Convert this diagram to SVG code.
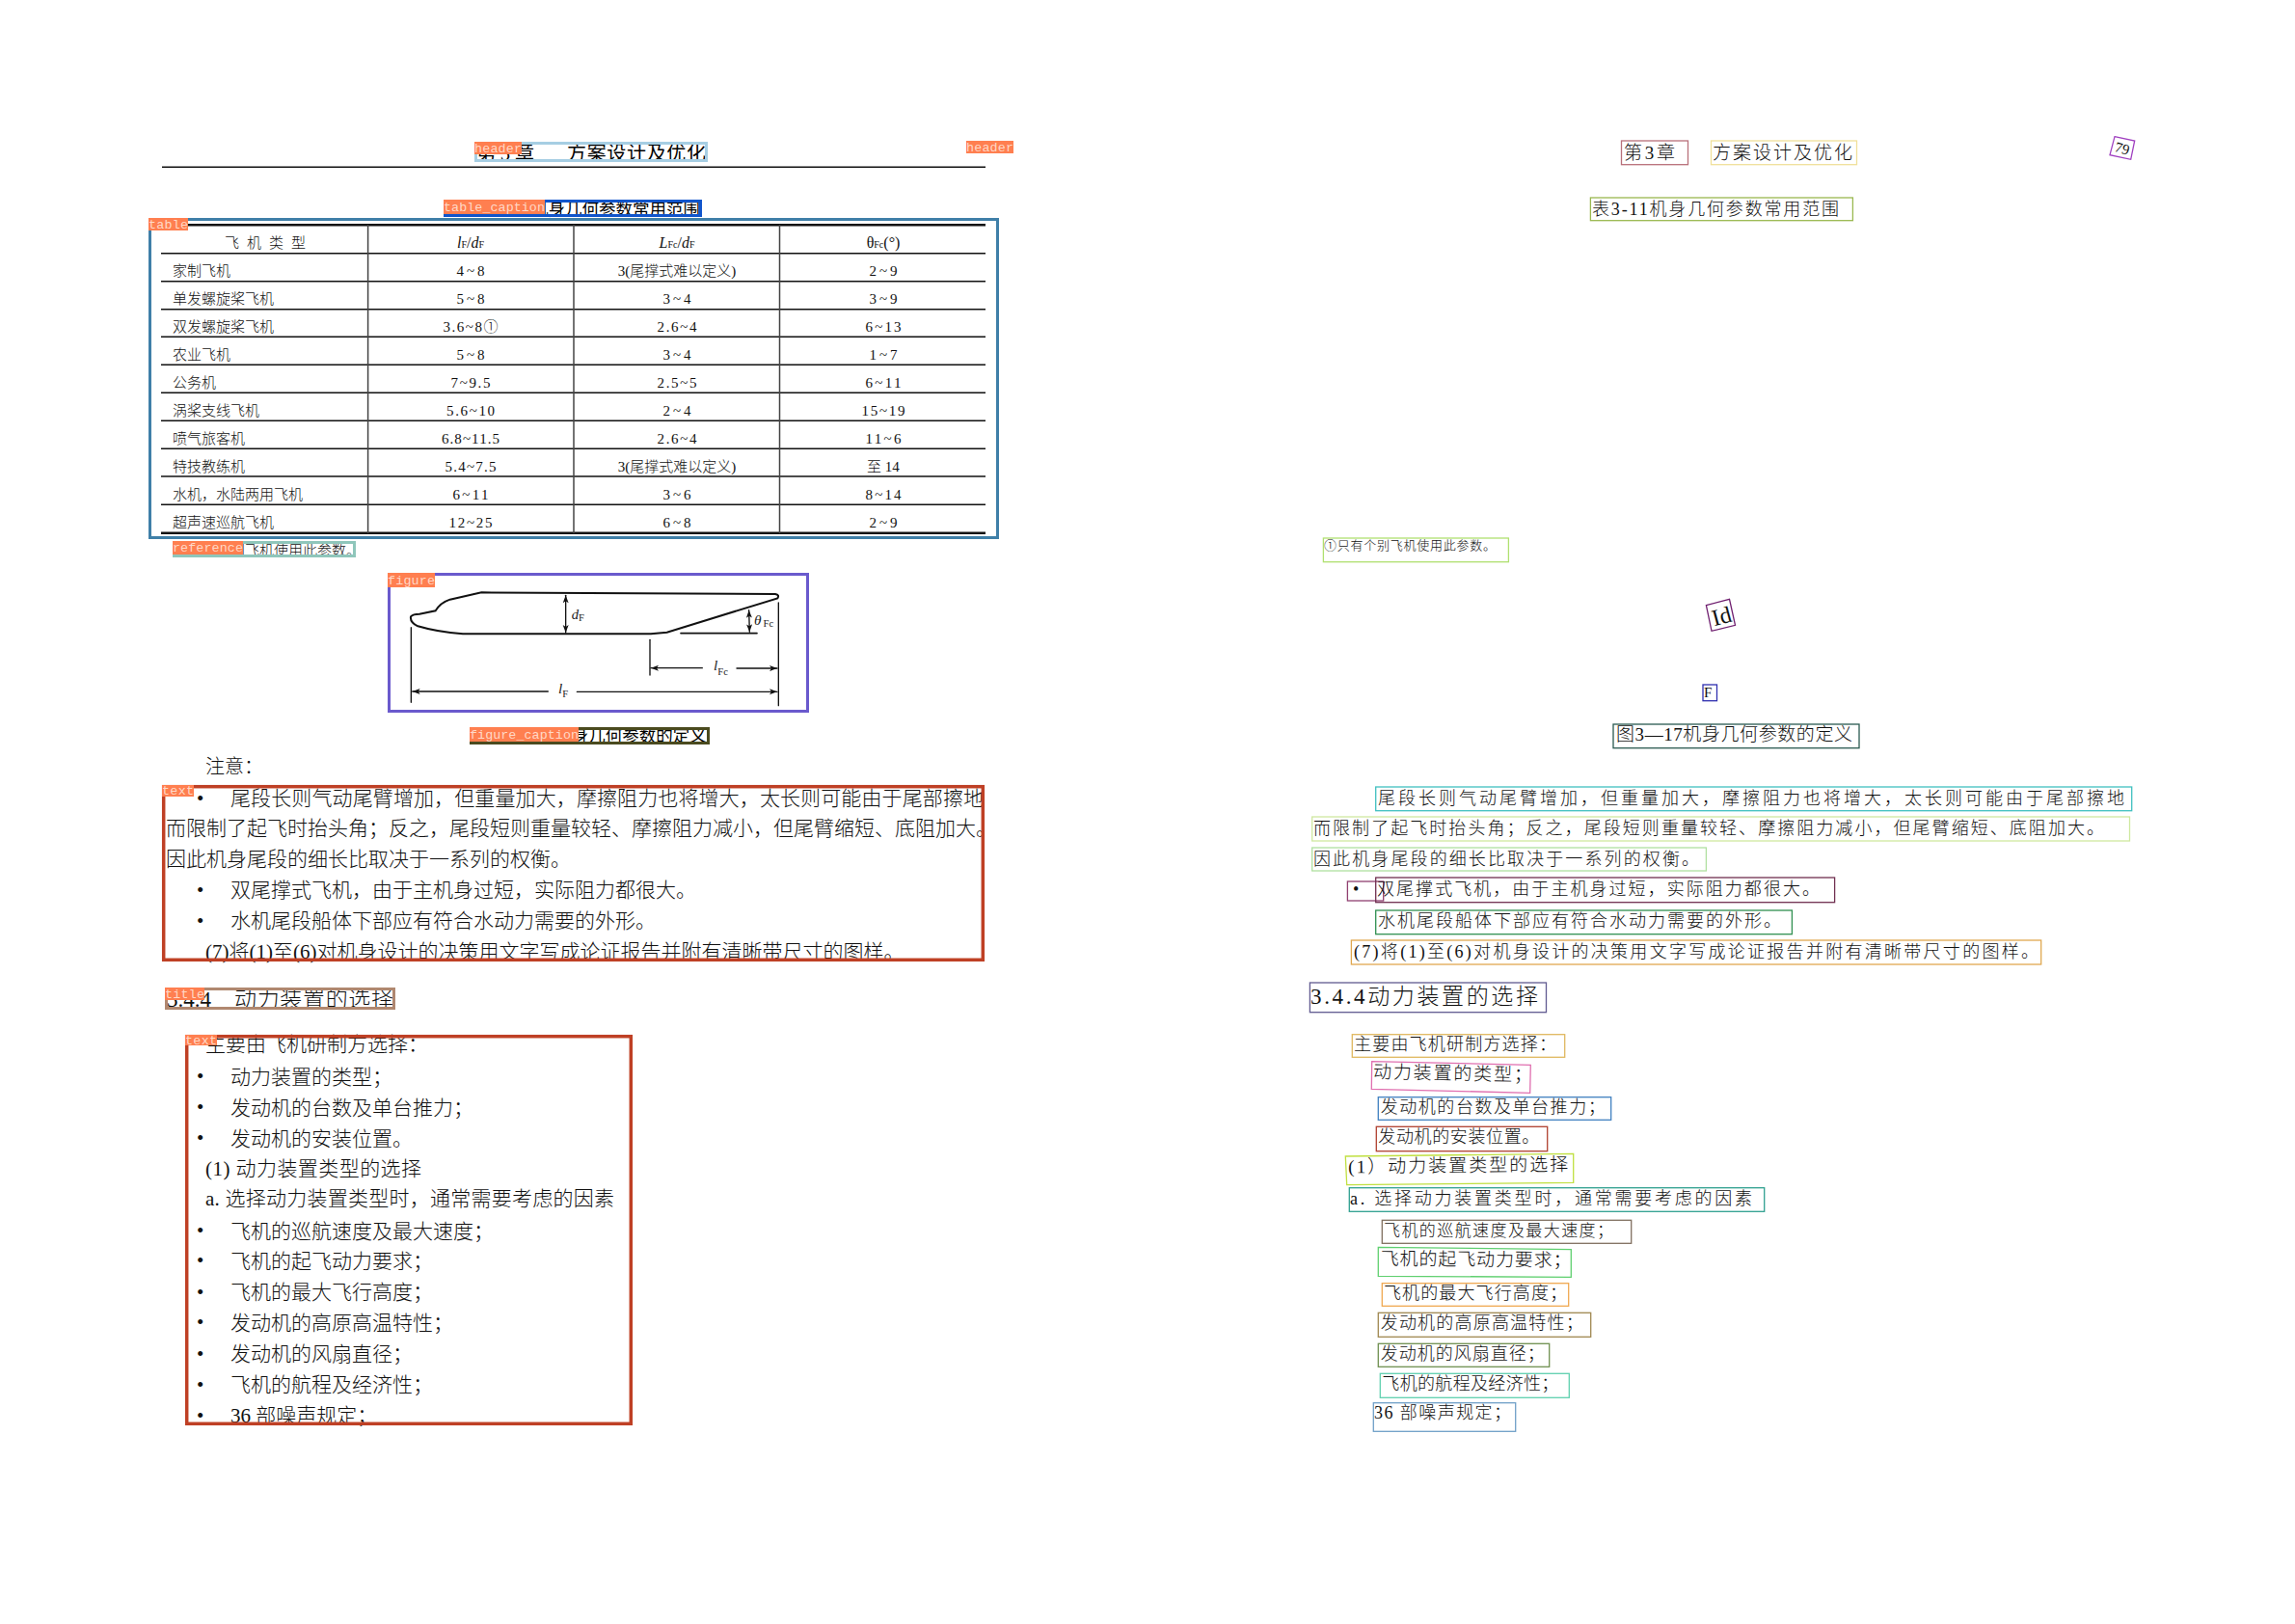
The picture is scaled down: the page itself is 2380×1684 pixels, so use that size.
<svg xmlns="http://www.w3.org/2000/svg" width="2380" height="1684" viewBox="0 0 2380 1684">
<style>
text{font-family:"Liberation Serif","Noto Sans CJK SC",serif;font-weight:300;fill:#111;dominant-baseline:alphabetic}
.t21{font-size:21px}.t15{font-size:15px}.t16{font-size:16px}.t17{font-size:17.5px;font-weight:400;fill:#000}.t20{font-size:20px}.t23{font-size:23px}.m{text-anchor:middle}
.hd{font-weight:400;fill:#000}
.r18{font-size:18px}.r19{font-size:19px}.r13{font-size:13px}.r24{font-size:24px}
.b3{fill:none;stroke-width:3}.b1{fill:none;stroke-width:1.3}
.lab{fill:#ff7f50}.labt{font-family:"Liberation Mono",monospace;fill:#ffe9df;font-size:13.4px;fill-opacity:.85}
.tl{stroke:#111;stroke-width:1.5}.tv{stroke:#444;stroke-width:1.5}
.sub{font-size:10px}.it{font-style:italic}
.fig{fill:none;stroke:#111;stroke-linecap:round}
.ft{font-family:"Liberation Serif",serif;fill:#222}
</style>
<defs>
<marker id="ah" markerUnits="userSpaceOnUse" markerWidth="26" markerHeight="20" refX="24" refY="10" orient="auto-start-reverse"><path d="M0 1L24 10L0 19L6 10Z" fill="#111"/></marker>
</defs>
<rect width="2380" height="1684" fill="#fff"/>

<g id="page-left-header">
<text class="t20 hd" y="165.5"><tspan x="494" textLength="60">第 3 章</tspan><tspan x="588" textLength="144">方案设计及优化</tspan></text>
<rect class="b3" x="493.5" y="148.5" width="239" height="18" stroke="#a6cee3"/>
<rect class="lab" x="492" y="147" width="49" height="13"/><text class="labt" x="492" y="158" textLength="49">header</text>
<line class="tl" x1="168" y1="173.3" x2="1022" y2="173.3"/>
</g>
<g id="page-left-header2">
<rect class="lab" x="1002" y="146" width="49" height="13"/><text class="labt" x="1002" y="157" textLength="49">header</text>
</g>

<g id="table-caption">
<text class="t17" x="502" y="223">表3-11机身几何参数常用范围</text>
<rect class="b3" x="461.5" y="208.5" width="265" height="15" stroke="#1155cc"/>
<rect class="lab" x="460" y="207" width="105" height="15"/><text class="labt" x="460" y="219" textLength="105">table_caption</text>
</g>

<g id="table">
<line x1="167" y1="233.3" x2="1022" y2="233.3" stroke="#111" stroke-width="2.6"/>
<g class="tl">
<line x1="167" y1="262.7" x2="1022" y2="262.7"/><line x1="167" y1="291.7" x2="1022" y2="291.7"/><line x1="167" y1="320.7" x2="1022" y2="320.7"/><line x1="167" y1="349.3" x2="1022" y2="349.3"/><line x1="167" y1="378.3" x2="1022" y2="378.3"/><line x1="167" y1="407.3" x2="1022" y2="407.3"/><line x1="167" y1="436.3" x2="1022" y2="436.3"/><line x1="167" y1="465.3" x2="1022" y2="465.3"/><line x1="167" y1="494" x2="1022" y2="494"/><line x1="167" y1="523.3" x2="1022" y2="523.3"/>
</g>
<line x1="167" y1="552.7" x2="1022" y2="552.7" stroke="#111" stroke-width="2.6"/>
<g class="tv"><line x1="381.6" y1="233" x2="381.6" y2="553"/><line x1="595" y1="233" x2="595" y2="553"/><line x1="808.5" y1="233" x2="808.5" y2="553"/></g>
<text class="t15" x="233" y="257" textLength="84">飞 机 类 型</text>
<text class="t16 m" x="488" y="257"><tspan class="it">l</tspan><tspan class="sub">F</tspan>/<tspan class="it">d</tspan><tspan class="sub">F</tspan></text>
<text class="t16 m" x="702" y="257"><tspan class="it">L</tspan><tspan class="sub">Fc</tspan>/<tspan class="it">d</tspan><tspan class="sub">F</tspan></text>
<text class="t16 m" x="916" y="257">θ<tspan class="sub">Fc</tspan>(°)</text>
<g class="t15">
<text x="179" y="286">家制飞机</text><text class="m" x="488" y="286" textLength="29">4~8</text><text class="m" x="702" y="286">3(尾撑式难以定义)</text><text class="m" x="916" y="286" textLength="29">2~9</text>
<text x="179" y="315">单发螺旋桨飞机</text><text class="m" x="488" y="315" textLength="29">5~8</text><text class="m" x="702" y="315" textLength="29">3~4</text><text class="m" x="916" y="315" textLength="29">3~9</text>
<text x="179" y="343.5">双发螺旋桨飞机</text><text class="m" x="488" y="343.5" textLength="57">3.6~8①</text><text class="m" x="702" y="343.5" textLength="41">2.6~4</text><text class="m" x="916" y="343.5" textLength="37">6~13</text>
<text x="179" y="372.5">农业飞机</text><text class="m" x="488" y="372.5" textLength="29">5~8</text><text class="m" x="702" y="372.5" textLength="29">3~4</text><text class="m" x="916" y="372.5" textLength="29">1~7</text>
<text x="179" y="401.5">公务机</text><text class="m" x="488" y="401.5" textLength="41">7~9.5</text><text class="m" x="702" y="401.5" textLength="41">2.5~5</text><text class="m" x="916" y="401.5" textLength="37">6~11</text>
<text x="179" y="430.5">涡桨支线飞机</text><text class="m" x="488" y="430.5" textLength="50">5.6~10</text><text class="m" x="702" y="430.5" textLength="29">2~4</text><text class="m" x="916" y="430.5" textLength="45">15~19</text>
<text x="179" y="459.5">喷气旅客机</text><text class="m" x="488" y="459.5" textLength="60">6.8~11.5</text><text class="m" x="702" y="459.5" textLength="41">2.6~4</text><text class="m" x="916" y="459.5" textLength="37">11~6</text>
<text x="179" y="488.5">特技教练机</text><text class="m" x="488" y="488.5" textLength="53">5.4~7.5</text><text class="m" x="702" y="488.5">3(尾撑式难以定义)</text><text class="m" x="916" y="488.5">至 14</text>
<text x="179" y="517.5">水机，水陆两用飞机</text><text class="m" x="488" y="517.5" textLength="37">6~11</text><text class="m" x="702" y="517.5" textLength="29">3~6</text><text class="m" x="916" y="517.5" textLength="37">8~14</text>
<text x="179" y="546.5">超声速巡航飞机</text><text class="m" x="488" y="546.5" textLength="45">12~25</text><text class="m" x="702" y="546.5" textLength="29">6~8</text><text class="m" x="916" y="546.5" textLength="29">2~9</text>
</g>
<rect class="b3" x="155.5" y="227.5" width="879" height="330" stroke="#3f7fa8"/>
<rect class="lab" x="154" y="226" width="41" height="13"/><text class="labt" x="154" y="237" textLength="41">table</text>
</g>

<g id="reference">
<text class="t15" x="179" y="576">①只有个别飞机使用此参数。</text>
<rect class="b3" x="180.5" y="562.5" width="187" height="14" stroke="#8fc6bb"/>
<rect class="lab" x="179" y="561" width="73" height="14"/><text class="labt" x="179" y="572" textLength="73">reference</text>
</g>

<g id="figure">
<g transform="translate(380 580) scale(.33333)">
<path class="fig" stroke-width="6" d="M358 103L1272 108Q1286 111 1279 121L935 227L885 232L300 232Q220 226 160 208Q135 196 138 178Q145 170 165 170L215 160Q230 135 260 125Z"/>
<g class="fig" stroke-width="4">
<line x1="978" y1="230" x2="1215" y2="230" stroke-width="5"/>
<line x1="620" y1="112" x2="620" y2="228" marker-start="url(#ah)" marker-end="url(#ah)"/>
<line x1="1190" y1="158" x2="1192" y2="226" marker-start="url(#ah)" marker-end="url(#ah)"/>
<line x1="139" y1="212" x2="139" y2="445"/><line x1="882" y1="250" x2="882" y2="360"/><line x1="1282" y1="135" x2="1282" y2="455"/>
<line x1="1045" y1="338" x2="885" y2="338" marker-end="url(#ah)"/><line x1="1152" y1="339" x2="1278" y2="339" marker-end="url(#ah)"/>
<line x1="565" y1="411" x2="143" y2="411" marker-end="url(#ah)"/><line x1="655" y1="412" x2="1278" y2="412" marker-end="url(#ah)"/>
</g>
<text class="ft" font-size="44" x="638" y="185"><tspan class="it">d</tspan><tspan font-size="32" dy="8">F</tspan></text>
<text class="ft" font-size="46" x="1206" y="203"><tspan class="it">θ</tspan><tspan font-size="32" dx="6" dy="8">Fc</tspan></text>
<text class="ft" font-size="46" x="1080" y="345"><tspan class="it">l</tspan><tspan font-size="32" dy="14">Fc</tspan></text>
<text class="ft" font-size="46" x="597" y="418"><tspan class="it">l</tspan><tspan font-size="32" dy="10">F</tspan></text>
</g>
<rect class="b3" x="403.5" y="595.5" width="434" height="142" stroke="#6a5acd"/>
<rect class="lab" x="402" y="594" width="49" height="15"/><text class="labt" x="402" y="606" textLength="49">figure</text>
</g>

<g id="figure-caption">
<text class="t17" x="514" y="769">图3—17机身几何参数的定义</text>
<rect class="b3" x="488.5" y="755.5" width="246" height="15" stroke="#4b4b1f"/>
<rect class="lab" x="487" y="754" width="113" height="15"/><text class="labt" x="487" y="766" textLength="113">figure_caption</text>
</g>

<text id="note" class="t20" x="213" y="802">注意：</text>

<g id="text-1">
<g class="t21">
<text x="204" y="834.5">•</text><text x="239" y="835" textLength="781">尾段长则气动尾臂增加，但重量加大，摩擦阻力也将增大，太长则可能由于尾部擦地</text>
<text x="172" y="866">而限制了起飞时抬头角；反之，尾段短则重量较轻、摩擦阻力减小，但尾臂缩短、底阻加大。</text>
<text x="172" y="897.5">因此机身尾段的细长比取决于一系列的权衡。</text>
<text x="204" y="929.5">•</text><text x="239" y="930">双尾撑式飞机，由于主机身过短，实际阻力都很大。</text>
<text x="204" y="961.5">•</text><text x="239" y="962">水机尾段船体下部应有符合水动力需要的外形。</text>
<text x="213" y="993.5">(7)将(1)至(6)对机身设计的决策用文字写成论证报告并附有清晰带尺寸的图样。</text>
</g>
<rect class="b3" style="stroke-width:3.5" x="169.7" y="815.7" width="849.6" height="179.6" stroke="#bf4025"/>
<rect class="lab" x="168" y="814" width="33" height="12"/><text class="labt" x="168" y="824" textLength="33">text</text>
</g>

<g id="title">
<text class="t23" x="173" y="1044"><tspan>3.4.4</tspan><tspan x="243" textLength="165">动力装置的选择</tspan></text>
<rect class="b3" x="172.5" y="1025.5" width="236" height="20" stroke="#b08870"/>
<rect class="lab" x="171" y="1024" width="41" height="13"/><text class="labt" x="171" y="1035" textLength="41">title</text>
</g>

<g id="text-2">
<g class="t21">
<text x="213" y="1090">主要由飞机研制方选择：</text>
<text x="204" y="1123">•</text><text x="239" y="1123.5">动力装置的类型；</text>
<text x="204" y="1155">•</text><text x="239" y="1155.5">发动机的台数及单台推力；</text>
<text x="204" y="1187">•</text><text x="239" y="1187.5">发动机的安装位置。</text>
<text x="213" y="1218.5" textLength="224">(1) 动力装置类型的选择</text>
<text x="213" y="1249.5" textLength="424">a. 选择动力装置类型时，通常需要考虑的因素</text>
<text x="204" y="1283">•</text><text x="239" y="1283.5">飞机的巡航速度及最大速度；</text>
<text x="204" y="1314">•</text><text x="239" y="1314.5">飞机的起飞动力要求；</text>
<text x="204" y="1347">•</text><text x="239" y="1347">飞机的最大飞行高度；</text>
<text x="204" y="1378">•</text><text x="239" y="1378.5">发动机的高原高温特性；</text>
<text x="204" y="1410.5">•</text><text x="239" y="1410.5">发动机的风扇直径；</text>
<text x="204" y="1442.5">•</text><text x="239" y="1442.5">飞机的航程及经济性；</text>
<text x="204" y="1474.5">•</text><text x="239" y="1475">36 部噪声规定；</text>
</g>
<rect class="b3" style="stroke-width:3.5" x="193.7" y="1074.7" width="460.6" height="401.6" stroke="#bf4025"/>
<rect class="lab" x="192" y="1073" width="33" height="11"/><text class="labt" x="192" y="1083" textLength="33">text</text>
</g>

<g id="r-header-a"><text class="r19" x="1684" y="165" textLength="53">第3章</text><rect class="b1" x="1681.5" y="146" width="69" height="24.7" stroke="#b8707a"/></g>
<g id="r-header-b"><text class="r19" x="1776" y="165" textLength="145">方案设计及优化</text><rect class="b1" x="1774.5" y="146" width="151" height="24.7" stroke="#f0e09a"/></g>
<g id="r-page-no"><text class="t15" x="2201" y="159" text-anchor="middle" transform="rotate(16 2201 153.5)">79</text><polygon class="b1" points="2193,141.7 2213.7,146 2209.7,165.3 2188,160.7" stroke="#a040c0"/></g>
<g id="r-table-caption"><text class="r18" x="1651" y="222.5" textLength="256">表3-11机身几何参数常用范围</text><rect class="b1" x="1649.4" y="205" width="272" height="23.7" stroke="#9ab850"/></g>
<g id="r-ref"><text class="r13" x="1373" y="569.5" textLength="178">①只有个别飞机使用此参数。</text><rect class="b1" x="1372.4" y="558" width="192" height="24.7" stroke="#b0e070"/></g>
<g id="r-id"><text class="r24" x="1785" y="647" text-anchor="middle" transform="rotate(-15 1785 638)">Id</text><polygon class="b1" points="1769.4,627.7 1793.5,621.3 1799.5,648.3 1775,654.3" stroke="#702070"/></g>
<g id="r-f"><text class="t15" x="1767" y="723">F</text><rect class="b1" x="1766" y="710" width="14.5" height="16.7" stroke="#3030b0"/></g>
<g id="r-fig-caption"><text class="r19" x="1676" y="768" textLength="245">图3—17机身几何参数的定义</text><rect class="b1" x="1673" y="751" width="255" height="24.7" stroke="#2a5a50"/></g>

<g id="r-1"><text class="r18" x="1429" y="834" textLength="774">尾段长则气动尾臂增加，但重量加大，摩擦阻力也将增大，太长则可能由于尾部擦地</text><rect class="b1" x="1426.7" y="816" width="784" height="24.7" stroke="#40c0c0"/></g>
<g id="r-2"><text class="r18" x="1362" y="865" textLength="820">而限制了起飞时抬头角；反之，尾段短则重量较轻、摩擦阻力减小，但尾臂缩短、底阻加大。</text><rect class="b1" x="1360.7" y="847" width="847.8" height="25" stroke="#d0e8a0"/></g>
<g id="r-3"><text class="r18" x="1362" y="897" textLength="400">因此机身尾段的细长比取决于一系列的权衡。</text><rect class="b1" x="1360.7" y="879" width="408.7" height="24" stroke="#b0e0a0"/></g>
<g id="r-bullet"><text class="r18" x="1403" y="927.5">•</text><rect class="b1" x="1397.4" y="914" width="37.3" height="20" stroke="#904070"/></g>
<g id="r-4"><text class="r18" x="1428" y="928" textLength="459">双尾撑式飞机，由于主机身过短，实际阻力都很大。</text><rect class="b1" x="1426.7" y="910" width="475.9" height="25.7" stroke="#703050"/></g>
<g id="r-5"><text class="r18" x="1429" y="961" textLength="418">水机尾段船体下部应有符合水动力需要的外形。</text><rect class="b1" x="1426.7" y="944" width="431.7" height="24.7" stroke="#309050"/></g>
<g id="r-6"><text class="r18" x="1404" y="992.5" textLength="710">(7)将(1)至(6)对机身设计的决策用文字写成论证报告并附有清晰带尺寸的图样。</text><rect class="b1" x="1401.4" y="975" width="715.3" height="25" stroke="#e0a850"/></g>
<g id="r-title"><text class="t23" x="1359" y="1041" textLength="236">3.4.4动力装置的选择</text><rect class="b1" x="1358.4" y="1019" width="245.1" height="30.7" stroke="#605a90"/></g>
<g id="r-a"><text class="r18" x="1404" y="1088.5" textLength="210">主要由飞机研制方选择：</text><rect class="b1" x="1402.3" y="1072.7" width="220.4" height="23.6" stroke="#e0b860"/></g>
<g id="r-b"><text class="r18" style="font-size:19px" x="1424" y="1119.5" textLength="165" transform="rotate(1.2 1505 1113)">动力装置的类型；</text><polygon class="b1" points="1422.7,1100.7 1587.3,1104.3 1586.7,1133.3 1422.3,1129.3" stroke="#e070b0"/></g>
<g id="r-c"><text class="r18" x="1431.7" y="1154" textLength="233">发动机的台数及单台推力；</text><rect class="b1" x="1429.3" y="1137.7" width="241.4" height="23.6" stroke="#4080c0"/></g>
<g id="r-d"><text class="r18" x="1429.3" y="1184.5" textLength="167">发动机的安装位置。</text><rect class="b1" x="1427.3" y="1168.3" width="177.4" height="25.4" stroke="#b04030"/></g>
<g id="r-e"><text class="r18" style="font-size:19px" x="1398.3" y="1215" textLength="228" transform="rotate(-.6 1515 1209)">(1）动力装置类型的选择</text><polygon class="b1" points="1395.3,1199 1631.7,1196.3 1631.7,1226.3 1396.7,1228.7" stroke="#c0e040"/></g>
<g id="r-f2"><text class="r18" x="1400" y="1248.5" textLength="417">a. 选择动力装置类型时，通常需要考虑的因素</text><rect class="b1" x="1399.3" y="1231.7" width="430.4" height="24.6" stroke="#30a090"/></g>
<g id="r-g"><text class="r18" style="font-size:17px" x="1435" y="1282" textLength="238">飞机的巡航速度及最大速度；</text><rect class="b1" x="1433.3" y="1265.3" width="258.4" height="24" stroke="#807060"/></g>
<g id="r-h"><text class="r18" style="font-size:19px" x="1431.7" y="1312.5" textLength="198" transform="rotate(.5 1530 1307)">飞机的起飞动力要求；</text><polygon class="b1" points="1429.3,1293.3 1629.3,1295.7 1629.3,1324.3 1429.3,1323.3" stroke="#60d070"/></g>
<g id="r-i"><text class="r18" x="1435" y="1347" textLength="190">飞机的最大飞行高度；</text><rect class="b1" x="1433.3" y="1330.7" width="193.4" height="23.6" stroke="#f0a850"/></g>
<g id="r-j"><text class="r18" x="1431.7" y="1378" textLength="210">发动机的高原高温特性；</text><rect class="b1" x="1429.3" y="1361.3" width="220.4" height="25" stroke="#a08850"/></g>
<g id="r-k"><text class="r18" x="1431.7" y="1409.5" textLength="170">发动机的风扇直径；</text><rect class="b1" x="1429.3" y="1393.3" width="177.4" height="24" stroke="#709050"/></g>
<g id="r-l"><text class="r18" x="1433.3" y="1440.5" textLength="183">飞机的航程及经济性；</text><rect class="b1" x="1431.3" y="1424.3" width="196" height="25" stroke="#60d0b0"/></g>
<g id="r-m"><text class="r18" x="1425" y="1471" textLength="142">36 部噪声规定；</text><rect class="b1" x="1424.3" y="1454.7" width="147.4" height="29.6" stroke="#70a0c8"/></g>
</svg>
